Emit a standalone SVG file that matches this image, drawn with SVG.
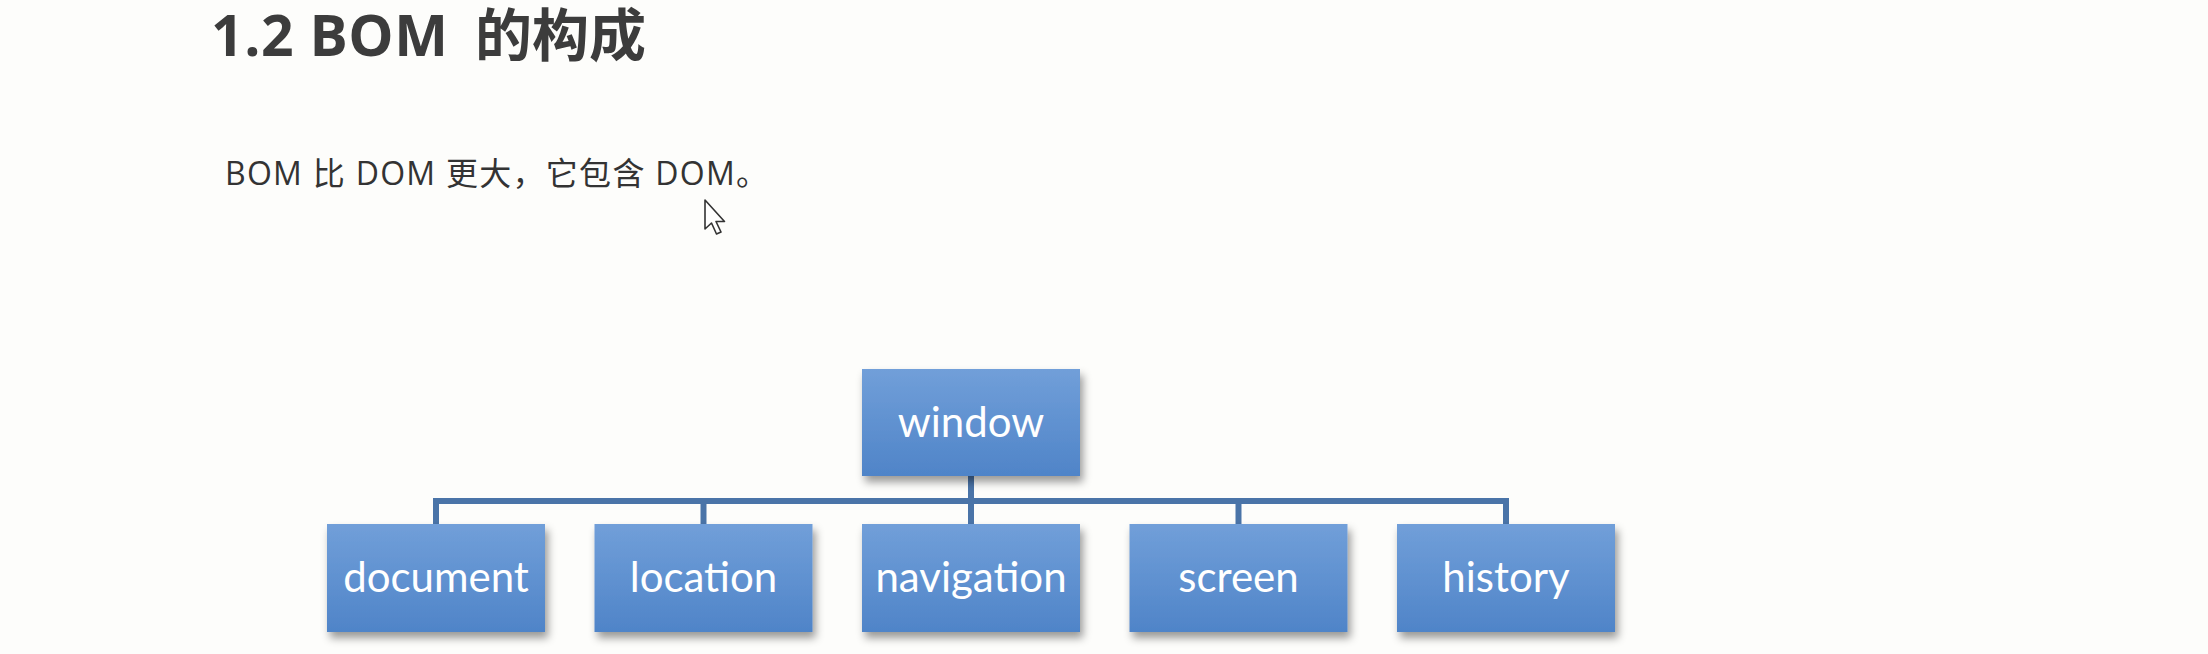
<svg xmlns="http://www.w3.org/2000/svg" width="2208" height="654" viewBox="0 0 2208 654">
  <defs>
    <linearGradient id="boxGrad" x1="0" y1="0" x2="0" y2="1">
      <stop offset="0" stop-color="#719fd9"/>
      <stop offset="1" stop-color="#4f84c8"/>
    </linearGradient>
    <filter id="shadow" x="-10%" y="-10%" width="125%" height="135%">
      <feDropShadow dx="3" dy="6" stdDeviation="4" flood-color="#000" flood-opacity="0.4"/>
    </filter>
    <style>
      .title { font-family: "Open Sans", "Noto Sans CJK SC", sans-serif; font-weight: bold; font-size: 57px; fill: #3c3c3c; }
      .sub { font-family: "Open Sans", "Noto Sans CJK SC", sans-serif; font-size: 32px; fill: #333333; }
      .box { fill: url(#boxGrad); filter: url(#shadow); }
      .lbl { font-family: Lato, "Open Sans", sans-serif; font-size: 42px; fill: #ffffff; text-anchor: middle; }
      .conn { fill: none; stroke: #4a74a8; stroke-width: 6; stroke-linejoin: miter; }
    </style>
  </defs>
  <rect x="0" y="0" width="2208" height="654" fill="#fdfdfb"/>

  <text class="title" x="211" y="56" textLength="237" lengthAdjust="spacing">1.2 BOM</text>
  <text class="title" x="475" y="56">的构成</text>
  <text class="sub" x="225" y="185" textLength="543" lengthAdjust="spacing">BOM 比 DOM 更大，它包含 DOM。</text>

  <path d="M705,200 L705,229 L711.5,223 L716.5,234 L721,232 L716,221.5 L724.5,221.5 Z" fill="#ffffff" stroke="#333333" stroke-width="1.6" stroke-linejoin="round"/>

  <g id="connectors">
    <path class="conn" d="M971,476 L971,524"/>
    <path class="conn" d="M436,524 L436,501 L1506,501 L1506,524"/>
    <path class="conn" d="M703.5,501 L703.5,524"/>
    <path class="conn" d="M1238.5,501 L1238.5,524"/>
  </g>

  <g id="window">
    <rect class="box" x="862" y="369" width="218" height="107"/>
    <text class="lbl" x="971" y="437">window</text>
  </g>
  <g id="document">
    <rect class="box" x="327" y="524" width="218" height="108"/>
    <text class="lbl" x="436" y="592">document</text>
  </g>
  <g id="location">
    <rect class="box" x="594.5" y="524" width="218" height="108"/>
    <text class="lbl" x="703.5" y="592">location</text>
  </g>
  <g id="navigation">
    <rect class="box" x="862" y="524" width="218" height="108"/>
    <text class="lbl" x="971" y="592">navigation</text>
  </g>
  <g id="screen">
    <rect class="box" x="1129.5" y="524" width="218" height="108"/>
    <text class="lbl" x="1238.5" y="592">screen</text>
  </g>
  <g id="history">
    <rect class="box" x="1397" y="524" width="218" height="108"/>
    <text class="lbl" x="1506" y="592">history</text>
  </g>
</svg>
